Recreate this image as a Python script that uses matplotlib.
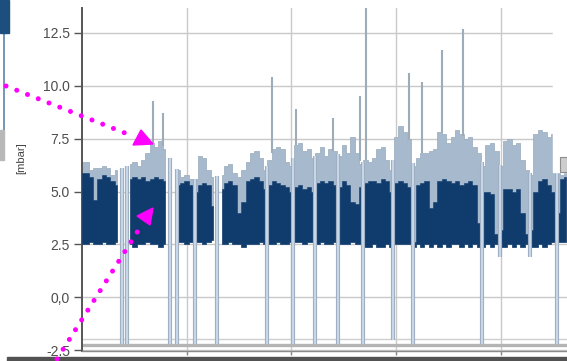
import numpy as np
import matplotlib
matplotlib.use("Agg")
import matplotlib.pyplot as plt
from matplotlib.patches import Rectangle, Polygon
from matplotlib.lines import Line2D
import matplotlib.patheffects as pe

nan = np.nan

# hourly samples of the two pressure channels [mbar]
hours = np.arange(112)

peak_envelope = np.array([
    6.4, 6.4, 6.0, 6.1, 6.1, 6.2, 6.1, 5.8, 6.0, nan,
    nan, 6.3, 6.4, 6.2, 6.5, 6.8, 7.3, 7.1, 7.4, 7.0,
    nan, nan, 6.0, 5.7, 5.8, 5.6, 5.6, 6.7, 6.6, 6.0,
    5.7, nan, 5.8, 6.2, 6.3, 5.9, 5.7, 6.0, 6.4, 6.8,
    6.9, 6.6, 6.0, 6.5, 7.0, 7.1, 7.0, 6.4, 6.2, 7.2,
    7.3, 6.9, 7.0, 6.6, 6.8, 7.1, 6.7, 7.0, 6.9, 6.7,
    7.2, 6.8, 7.6, 6.8, 6.3, 6.5, 6.4, 6.6, 7.0, 7.1,
    6.5, 6.0, 7.6, 8.1, 7.8, 7.5, 6.2, 6.6, 6.8, 6.8,
    6.9, 7.0, 7.8, 7.7, 7.3, 7.6, 7.9, 7.7, 7.5, 7.6,
    7.1, 6.8, 6.2, 7.2, 7.3, 6.9, 6.2, 7.4, 7.5, 7.2,
    7.3, 6.5, 6.0, 5.8, 7.7, 7.9, 7.8, 7.6, 7.7, 6.0,
    5.8, 5.9])

mean_high = np.array([
    5.9, 5.9, 5.7, 4.6, 5.6, 5.8, 5.7, 5.5, 5.3, nan,
    nan, 5.6, 5.7, 5.6, 5.7, 5.5, 5.6, 5.7, 5.6, 5.5,
    nan, nan, 5.3, 5.4, 5.5, 5.3, 5.0, 5.3, 5.4, 5.3,
    4.3, nan, 5.1, 5.4, 5.5, 5.3, 4.0, 4.5, 5.5, 5.6,
    5.7, 5.5, 5.1, 5.3, 5.5, 5.4, 5.3, 5.2, 5.0, 5.2,
    5.3, 5.1, 5.2, 5.0, 5.4, 5.5, 5.4, 5.5, 5.3, 5.2,
    5.5, 5.3, 4.5, 4.4, 5.2, 5.4, 5.5, 5.5, 5.4, 5.6,
    5.5, 5.0, 5.4, 5.5, 5.4, 5.2, 2.6, 5.3, 5.4, 5.5,
    4.2, 4.5, 5.5, 5.6, 5.5, 5.4, 5.5, 5.3, 5.4, 5.5,
    5.3, 3.5, 5.0, 5.0, 4.9, 3.0, 3.2, 5.1, 5.1, 5.0,
    5.1, 4.0, 3.0, 3.2, 5.0, 5.5, 5.6, 5.3, 5.0, 4.0,
    5.6, 5.7])

mean_low = np.array([
    2.5, 2.5, 2.6, 2.5, 2.5, 2.6, 2.5, 2.5, 2.6, nan,
    nan, 2.5, 2.4, 2.5, 2.5, 2.6, 2.5, 2.5, 2.4, 2.5,
    nan, nan, 2.6, 2.6, 2.5, 2.6, 2.6, 2.6, 2.5, 2.6,
    2.7, nan, 2.5, 2.5, 2.6, 2.5, 2.5, 2.4, 2.5, 2.5,
    2.5, 2.6, 2.5, 2.5, 2.5, 2.6, 2.5, 2.5, 2.6, 2.6,
    2.6, 2.5, 2.6, 2.6, 2.5, 2.6, 2.5, 2.5, 2.6, 2.5,
    2.5, 2.5, 2.6, 2.5, 2.5, 2.4, 2.4, 2.5, 2.4, 2.4,
    2.5, 2.4, 2.5, 2.5, 2.5, 2.5, 2.4, 2.5, 2.4, 2.5,
    2.4, 2.5, 2.4, 2.5, 2.4, 2.5, 2.5, 2.4, 2.5, 2.4,
    2.5, 2.4, 2.4, 2.5, 2.4, 2.5, 2.4, 2.4, 2.5, 2.4,
    2.5, 2.4, 2.5, 2.4, 2.4, 2.5, 2.4, 2.5, 2.6, 2.6,
    2.6, 2.6])

# short pressure peaks
spike_hours = [16.3, 18.6, 43.6, 49.1, 57.6, 63.7, 65.1, 75.0, 78.0, 82.5, 87.4]
spike_values = [9.3, 8.7, 10.4, 8.9, 8.5, 9.5, 13.9, 10.6, 10.2, 11.7, 12.7]

# pressure drops (valve openings)
drop_hours = [9.2, 10.3, 20.2, 21.8, 25.9, 31.0, 42.4, 48.4, 53.4, 58.7,
              64.4, 71.3, 75.9, 91.7, 95.9, 102.7, 108.9]
drop_values = [-2.2, -2.2, -2.2, -2.2, -2.2, -2.2, -2.2, -2.2, -2.2, -2.2,
               -2.2, -2.0, -2.2, -2.2, 1.9, 1.9, -2.2]

# reference levels near the bottom
reference_levels = [-1.97, -2.26]

y_ticks = [12.5, 10.0, 7.5, 5.0, 2.5, 0.0, -2.5]
y_tick_labels = ["12.5", "10.0", "7.5", "5.0", "2.5", "0,0", "-2.5"]
x_ticks = [24, 48, 72, 96]

LIGHT = "#a7bacd"
LIGHT_EDGE = "#98a9bb"
DARK = "#0f3b6d"
MAGENTA = "#ff00ff"

W, H = 567, 361


def fx(px):
    return px / W


def fy(py):
    return 1 - py / H


plt.rcParams["font.family"] = ["Liberation Sans", "DejaVu Sans"]

fig = plt.figure(figsize=(W / 100, H / 100), dpi=100)
fig.patch.set_facecolor("white")
ax = fig.add_axes([fx(82), fy(351.2), fx(567) - fx(82), fy(8) - fy(351.2)])

ax.set_xlim(0, 111.2)
ax.set_ylim(-2.55, 13.68)

# reference levels
for lvl, col, lw in zip(reference_levels, ["#cfcfcf", "#b4b4b4"], [1.0, 2.4]):
    ax.axhline(lvl, color=col, lw=lw, zorder=1.2)

# peak channel
ax.fill_between(hours, mean_low, peak_envelope, step="mid", color=LIGHT,
                edgecolor=LIGHT_EDGE, lw=0.5, zorder=2)
valid = ~np.isnan(peak_envelope)
spike_base = np.interp(spike_hours, hours[valid], peak_envelope[valid])
ax.vlines(spike_hours, spike_base, spike_values, color="#9eabb9", lw=1.5, zorder=2.1)

# mean channel
ax.fill_between(hours, mean_low, mean_high, step="mid", color=DARK,
                edgecolor=DARK, lw=0.4, zorder=3)

# drops of the peak channel
drop_top = np.interp(drop_hours, hours[valid], peak_envelope[valid])
ax.vlines(drop_hours, drop_values, drop_top, color="#c9d9ea", lw=1.4, zorder=4,
          path_effects=[pe.Stroke(linewidth=3.0, foreground="#a0b0c2"), pe.Normal()])

ax.set_yticks(y_ticks)
ax.set_yticklabels(y_tick_labels)
ax.set_xticks(x_ticks)
ax.set_xticklabels([])
ax.tick_params(axis="y", length=5.8, width=1.0, color="#555555", pad=2.9,
               labelsize=10, labelcolor="#4d4d4d")
ax.tick_params(axis="x", length=3, width=1.0, color="#888888")
ax.grid(True, color="#c9c9c9", lw=1.0, zorder=0)
ax.set_axisbelow(True)
for side in ("top", "right"):
    ax.spines[side].set_visible(False)
ax.spines["left"].set_color("#555555")
ax.spines["left"].set_linewidth(1.4)
ax.spines["bottom"].set_color("#8a8a8a")
ax.spines["bottom"].set_linewidth(1.0)

fig.text(fx(21), fy(158), "[mbar]", rotation=90, fontsize=8, color="#444444",
         ha="center", va="center")

# panel on the right edge
fig.patches.append(Rectangle((fx(553), fy(172)), fx(567) - fx(553), 172 / H,
                             transform=fig.transFigure, color="white", zorder=5))
fig.patches.append(Rectangle((fx(560), fy(172)), fx(567) - fx(560), 15 / H,
                             transform=fig.transFigure, facecolor="#cdcdcd",
                             edgecolor="#8c8c8c", lw=0.8, zorder=6))

# neighbouring window at the left edge
fig.patches.append(Rectangle((0, fy(33)), fx(9), 33 / H, transform=fig.transFigure,
                             color="#1d4f7e", zorder=5))
fig.lines.append(Line2D([fx(4), fx(4)], [fy(33), fy(130)], transform=fig.transFigure,
                        color="#5d84a8", lw=1.2, zorder=5))
fig.patches.append(Rectangle((0, fy(160)), fx(4), 30 / H, transform=fig.transFigure,
                             color="#b8b8b8", zorder=5))

# window frame at the bottom
fig.patches.append(Rectangle((fx(7), 0), fx(567) - fx(7), 4.5 / H,
                             transform=fig.transFigure, color="#525252", zorder=5))

# dotted pointers
for (x0, y0), (x1, y1), tri in [
    ((6, 86), (130, 135), [(141, 130), (133, 145), (153, 144)]),
    ((57, 359), (141, 226), [(137, 216), (153, 208), (150, 225)]),
]:
    fig.lines.append(Line2D([fx(x0), fx(x1)], [fy(y0), fy(y1)],
                            transform=fig.transFigure, color=MAGENTA, lw=3.6,
                            linestyle=(0, (0.01, 2.3)), dash_capstyle="round",
                            zorder=10))
    fig.patches.append(Polygon([(fx(a), fy(b)) for a, b in tri], closed=True,
                               transform=fig.transFigure, color=MAGENTA, zorder=10))

fig.savefig("out.png", dpi=100)
